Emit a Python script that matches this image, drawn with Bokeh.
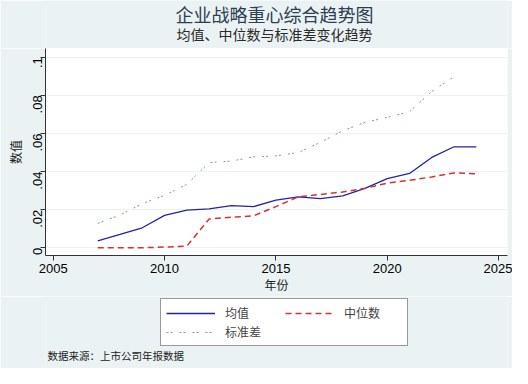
import math
import numpy as np
from bokeh.plotting import figure
from bokeh.layouts import column
from bokeh.models import Range1d, FixedTicker, Legend, LegendItem, Label
from bokeh.embed import file_html
from bokeh.resources import INLINE

years = list(range(2007, 2025))
mean_vals = [0.0036, 0.0070, 0.0105, 0.0170, 0.0198, 0.0204, 0.0221, 0.0216, 0.0250,
             0.0267, 0.0258, 0.0272, 0.0312, 0.0363, 0.0390, 0.0474, 0.0530, 0.0530]
median_vals = [0.0, 0.0, 0.0, 0.0004, 0.0009, 0.0151, 0.0160, 0.0168, 0.0216,
               0.0267, 0.0280, 0.0293, 0.0312, 0.0339, 0.0354, 0.0372, 0.0393, 0.0388]
std_vals = [0.0128, 0.0172, 0.0232, 0.0275, 0.0333, 0.0447, 0.0455, 0.0477, 0.0482,
            0.0500, 0.0553, 0.0614, 0.0658, 0.0684, 0.0714, 0.0820, 0.0898, np.nan]
series_names = ["均值", "中位数", "标准差"]
x_ticks = [2005, 2010, 2015, 2020, 2025]
y_ticks = [0, 0.02, 0.04, 0.06, 0.08, 0.1]
y_tick_labels = ["0", ".02", ".04", ".06", ".08", ".1"]
title_text = "企业战略重心综合趋势图"
subtitle_text = "均值、中位数与标准差变化趋势"
note_text = "数据来源：上市公司年报数据"

BG = "#eaf2f3"
CJK = "Noto Sans CJK SC"
LAT = "Liberation Sans"
COLORS = ["#2323a8", "#d93030", "#6fa86a"]
WIDTHS = [1.3, 1.5, 1.0]
DASHES = ["solid", "6 4", "2 2 2 7"]


def blank(height):
    f = figure(width=512, height=height, output_backend="svg", toolbar_location=None,
               x_range=Range1d(0, 1), y_range=Range1d(0, 1),
               x_axis_type=None, y_axis_type=None,
               min_border_left=45, min_border_right=5, min_border_top=0, min_border_bottom=0)
    f.border_fill_color = BG
    f.background_fill_color = BG
    f.outline_line_color = None
    f.grid.grid_line_color = None
    return f


# title panel
top = blank(48)
top.add_layout(Label(x=229, y=34.8, x_units="screen", y_units="screen", text=title_text,
                     text_font=CJK, text_font_size="18px", text_color="#2e3e50",
                     text_align="center", text_baseline="middle"))
top.add_layout(Label(x=229, y=14.2, x_units="screen", y_units="screen", text=subtitle_text,
                     text_font=CJK, text_font_size="14px", text_color="#2a2a2a",
                     text_align="center", text_baseline="middle"))

# main chart
fig = figure(width=512, height=248, output_backend="svg", toolbar_location=None,
             x_range=Range1d(2004.654, 2025.40), y_range=Range1d(-0.00404, 0.10456),
             min_border_left=45, min_border_right=5, min_border_top=0, min_border_bottom=41)
fig.border_fill_color = BG
fig.background_fill_color = "white"
fig.outline_line_color = None

fig.xaxis.ticker = FixedTicker(ticks=x_ticks)
fig.yaxis.ticker = FixedTicker(ticks=y_ticks)
fig.yaxis.major_label_overrides = {t: l for t, l in zip(y_ticks, y_tick_labels)}
fig.yaxis.major_label_orientation = math.pi / 2
for ax in (fig.xaxis, fig.yaxis):
    ax.major_tick_in = 0
    ax.major_tick_out = 5
    ax.minor_tick_line_color = None
    ax.axis_line_color = "#333333"
    ax.major_tick_line_color = "#333333"
    ax.major_label_text_font = LAT
    ax.major_label_text_font_size = "13px"
    ax.major_label_text_color = "#000000"
    ax.axis_label_text_font = CJK
    ax.axis_label_text_font_size = "12px"
    ax.axis_label_text_font_style = "normal"
    ax.axis_label_text_color = "#222222"
fig.xaxis.axis_label = "年份"
fig.yaxis.axis_label = "数值"
fig.xaxis.axis_label_standoff = 0
fig.yaxis.axis_label_standoff = 2
fig.xaxis.major_label_standoff = 3
fig.yaxis.major_label_standoff = 3

fig.xgrid.grid_line_color = None
fig.ygrid.grid_line_color = BG
fig.ygrid.grid_line_width = 1

for vals, c, w, d in zip([mean_vals, median_vals, std_vals], COLORS, WIDTHS, DASHES):
    fig.line(years, vals, line_color=c, line_width=w, line_dash=d)

# legend + note panel
leg = blank(72)
items = []
for name, c, w, d in zip(series_names, COLORS, WIDTHS, DASHES):
    r = leg.line(x=[np.nan], y=[np.nan], line_color=c, line_width=w, line_dash=d)
    items.append(LegendItem(label=name, renderers=[r]))
legend = Legend(items=items, ncols=2, location=(115, 22), orientation="horizontal",
                label_text_font=CJK, label_text_font_size="12px",
                label_standoff=10, label_width=58, label_height=16,
                glyph_width=49, glyph_height=14, spacing=2, padding=5, margin=0,
                border_line_color="#333333", background_fill_color="white",
                background_fill_alpha=1.0)
leg.add_layout(legend, "center")
leg.add_layout(Label(x=2, y=13.3, x_units="screen", y_units="screen",
                     text=note_text, text_font=CJK, text_font_size="10.5px",
                     text_color="#222222", text_align="left", text_baseline="middle"))

p = column(top, fig, leg, spacing=0)
open("out.html", "w").write(file_html(p, INLINE))
